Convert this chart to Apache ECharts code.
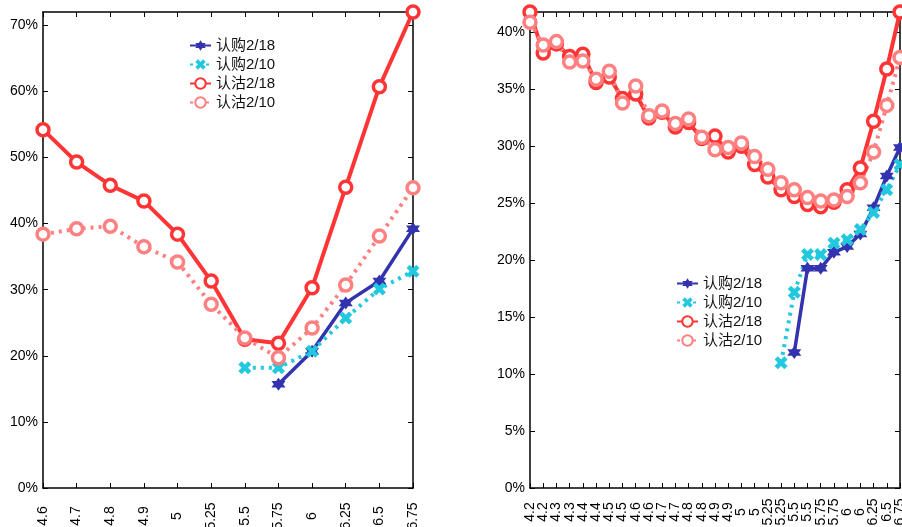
<!DOCTYPE html>
<html><head><meta charset="utf-8">
<script src="https://cdn.jsdelivr.net/npm/echarts@6/dist/echarts.min.js"></script>
<style>html,body{margin:0;padding:0;background:#fff}#c{width:902px;height:527px}</style>
</head><body><div id="c"></div>
<script>
// ---- data ----
const seriesNames = ['认购2/18', '认购2/10', '认沽2/18', '认沽2/10'];
const leftStrikes = ['4.6','4.7','4.8','4.9','5','5.25','5.5','5.75','6','6.25','6.5','6.75'];
const leftCall218 = [null,null,null,null,null,null,null,15.7,20.7,28.0,31.3,39.2];
const leftCall210 = [null,null,null,null,null,null,18.2,18.2,20.7,25.7,30.1,32.8];
const leftPut218  = [54.2,49.3,45.8,43.4,38.4,31.3,22.5,21.9,30.3,45.5,60.7,72.0];
const leftPut210  = [38.4,39.2,39.6,36.5,34.2,27.8,22.7,19.7,24.2,30.7,38.1,45.4];

const rightStrikes = ['4.2','4.2','4.3','4.3','4.4','4.4','4.5','4.5','4.6','4.6','4.7','4.7','4.8','4.8','4.9','4.9','5','5','5.25','5.25','5.5','5.5','5.75','5.75','6','6','6.25','6.5','6.75'];
const rightPut218 = [41.8,38.2,39.0,37.9,38.1,35.6,36.1,34.2,34.6,32.5,33.0,31.7,32.1,30.7,30.9,29.5,30.0,28.4,27.3,26.2,25.6,24.9,24.7,25.1,26.2,28.1,32.2,36.8,41.8];
const rightPut210 = [40.9,38.9,39.2,37.4,37.5,35.9,36.6,33.8,35.3,32.7,33.1,32.0,32.4,30.8,29.7,29.9,30.3,29.1,28.0,26.8,26.2,25.5,25.2,25.3,25.6,26.8,29.5,33.6,37.8];
const rightCall218 = [null,null,null,null,null,null,null,null,null,null,null,null,null,null,null,null,null,null,null,null,11.9,19.3,19.3,20.7,21.2,22.3,24.6,27.4,29.9];
const rightCall210 = [null,null,null,null,null,null,null,null,null,null,null,null,null,null,null,null,null,null,null,11.0,17.2,20.5,20.5,21.5,21.8,22.7,24.2,26.2,28.4];

// ---- styles ----
const FONT = '"Liberation Sans", Arial, "Noto Sans CJK SC", sans-serif';
const C_BLUE = '#3333b0', C_CYAN = '#22c8de', C_RED = '#ff3535', C_PINK = '#ff8080';
const HEX = 'path://M0,-10L2.9,-5L8.66,-5L5.8,0L8.66,5L2.9,5L0,10L-2.9,5L-8.66,5L-5.8,0L-8.66,-5L-2.9,-5Z';
const XMARK = 'path://M-10,-5L-5,-10L0,-5L5,-10L10,-5L5,0L10,5L5,10L0,5L-5,10L-10,5L-5,0Z';

function mkSeries(idx, data, kind) {
  const base = {name: seriesNames[kind], type: 'line', xAxisIndex: idx * 2, yAxisIndex: idx * 2,
    data: data, clip: false, showSymbol: true, showAllSymbol: true, connectNulls: false, animation: false};
  if (kind === 0) return Object.assign(base, {symbol: HEX, symbolSize: [14, 13],
    lineStyle: {color: C_BLUE, width: 3.5}, itemStyle: {color: C_BLUE}});
  if (kind === 1) return Object.assign(base, {symbol: XMARK, symbolSize: [13, 13],
    lineStyle: {color: C_CYAN, width: 4, type: [3, 5]}, itemStyle: {color: C_CYAN}});
  if (kind === 2) return Object.assign(base, {symbol: 'circle', symbolSize: 12,
    lineStyle: {color: C_RED, width: 4}, itemStyle: {color: '#fff', borderColor: C_RED, borderWidth: 3.5}});
  return Object.assign(base, {symbol: 'circle', symbolSize: 12,
    lineStyle: {color: C_PINK, width: 4, type: [3, 5]}, itemStyle: {color: '#fff', borderColor: C_PINK, borderWidth: 3.5}});
}

function xAxes(gridIndex, cats, margin) {
  const line = {show: true, onZero: false, lineStyle: {color: '#000', width: 1.5}};
  return [
    {type: 'category', gridIndex, data: cats, boundaryGap: false, position: 'bottom',
     axisLine: line, axisTick: {show: true, inside: true, length: 5, interval: 0, lineStyle: {color: '#000', width: 1}},
     axisLabel: {interval: 0, rotate: 90, align: 'center', verticalAlign: 'middle', margin: margin,
       fontSize: 14, color: '#000', fontFamily: FONT}, splitLine: {show: false}},
    {type: 'category', gridIndex, data: cats, boundaryGap: false, position: 'top',
     axisLine: line, axisTick: {show: true, inside: true, length: 5, interval: 0, lineStyle: {color: '#000', width: 1}},
     axisLabel: {show: false}, splitLine: {show: false}}
  ];
}
function yAxes(gridIndex, max, interval) {
  const line = {show: true, onZero: false, lineStyle: {color: '#000', width: 1.5}};
  return [
    {type: 'value', gridIndex, min: 0, max, interval, position: 'left',
     axisLine: line, axisTick: {show: true, inside: true, length: 5, lineStyle: {color: '#000', width: 1}},
     axisLabel: {showMaxLabel: false, margin: 5, fontSize: 14, color: '#000', fontFamily: FONT,
       formatter: v => Math.round(v) + '%'}, splitLine: {show: false}},
    {type: 'value', gridIndex, min: 0, max, interval, position: 'right',
     axisLine: line, axisTick: {show: true, inside: true, length: 5, lineStyle: {color: '#000', width: 1}},
     axisLabel: {show: false}, splitLine: {show: false}}
  ];
}

const legendBase = {orient: 'vertical', data: seriesNames, itemWidth: 21, itemHeight: 13, itemGap: 4,
  textStyle: {fontSize: 15, color: '#111', fontFamily: FONT}, selectedMode: false};

const option = {
  animation: false,
  backgroundColor: '#fff',
  grid: [
    {left: 43, top: 12, width: 370, bottom: 39, outerBoundsMode: 'none', containLabel: false},
    {left: 530, top: 12, right: 2, bottom: 39, outerBoundsMode: 'none', containLabel: false}
  ],
  xAxis: [...xAxes(0, leftStrikes, 28), ...xAxes(1, rightStrikes, 24)],
  yAxis: [...yAxes(0, 72, 10), ...yAxes(1, 41.8, 5)],
  legend: [
    Object.assign({left: 184, top: 33}, legendBase),
    Object.assign({left: 671, top: 271}, legendBase)
  ],
  series: [
    mkSeries(0, leftCall218, 0), mkSeries(0, leftCall210, 1), mkSeries(0, leftPut218, 2), mkSeries(0, leftPut210, 3),
    mkSeries(1, rightCall218, 0), mkSeries(1, rightCall210, 1), mkSeries(1, rightPut218, 2), mkSeries(1, rightPut210, 3)
  ]
};
const chart = echarts.init(document.getElementById('c'), null, {renderer: 'canvas'});
chart.setOption(option);
</script></body></html>
